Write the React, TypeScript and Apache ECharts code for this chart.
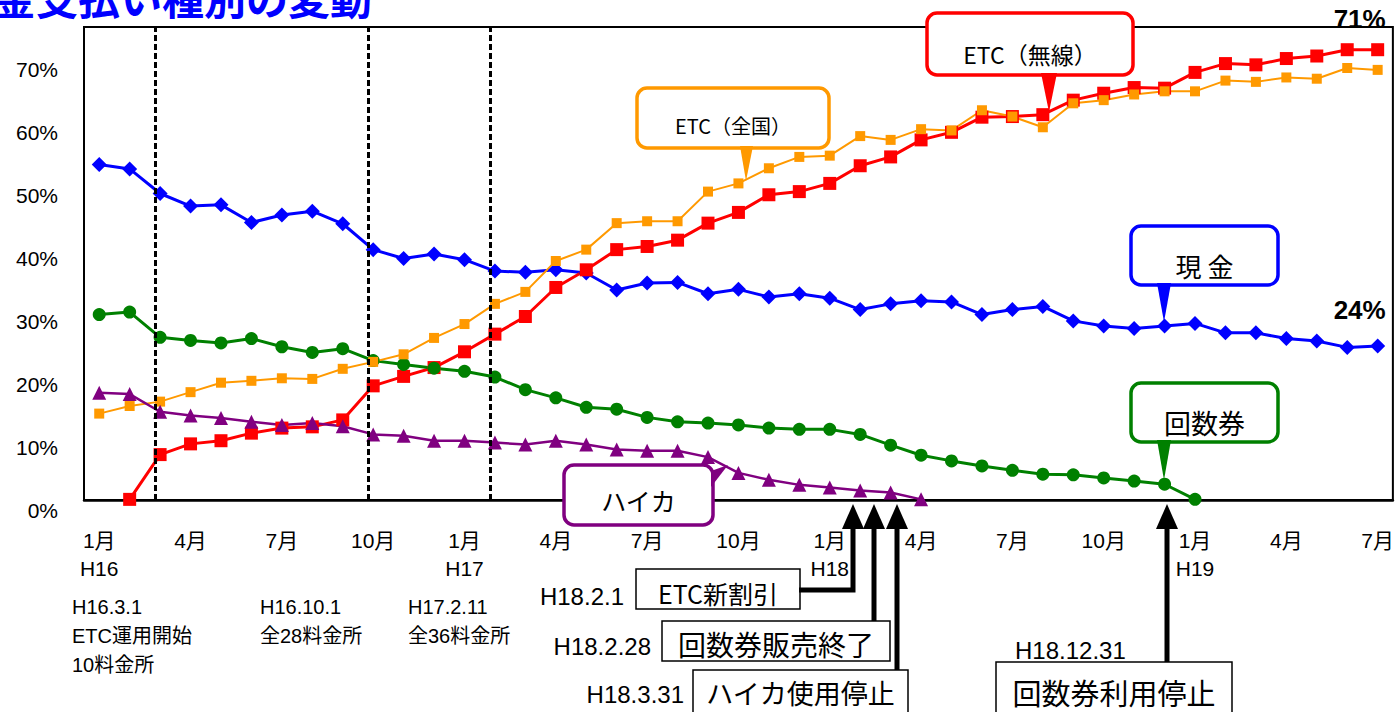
import React, { useEffect, useRef } from "react";
import * as echarts from "echarts";

// Monthly periods, H16.1 (Jan 2004) through H19.7 (Jul 2007)
const periods = [
  "H16.1", "H16.2", "H16.3", "H16.4", "H16.5", "H16.6", "H16.7", "H16.8", "H16.9", "H16.10", "H16.11", "H16.12",
  "H17.1", "H17.2", "H17.3", "H17.4", "H17.5", "H17.6", "H17.7", "H17.8", "H17.9", "H17.10", "H17.11", "H17.12",
  "H18.1", "H18.2", "H18.3", "H18.4", "H18.5", "H18.6", "H18.7", "H18.8", "H18.9", "H18.10", "H18.11", "H18.12",
  "H19.1", "H19.2", "H19.3", "H19.4", "H19.5", "H19.6", "H19.7",
];

// Share of payment types (%)
const cash = [
  53.2, 52.5, 48.6, 46.6, 46.8, 44.0, 45.2, 45.8, 43.8, 39.7, 38.3, 39.0,
  38.1, 36.3, 36.1, 36.5, 36.0, 33.3, 34.4, 34.5, 32.7, 33.4, 32.2, 32.7,
  32.0, 30.2, 31.1, 31.6, 31.4, 29.4, 30.2, 30.7, 28.4, 27.6, 27.2, 27.6,
  28.0, 26.5, 26.5, 25.6, 25.2, 24.2, 24.4,
];
const etcWireless = [
  null, 0.1, 7.2, 8.9, 9.4, 10.6, 11.4, 11.6, 12.7, 18.1, 19.6, 21.0,
  23.5, 26.3, 29.1, 33.7, 36.5, 39.7, 40.2, 41.2, 43.9, 45.6, 48.4, 48.9,
  50.2, 53.0, 54.4, 57.1, 58.3, 60.7, 60.8, 61.1, 63.4, 64.5, 65.4, 65.3,
  67.8, 69.2, 69.0, 70.0, 70.4, 71.4, 71.4,
];
const etcNational = [
  13.7, 14.9, 15.6, 17.1, 18.6, 18.9, 19.3, 19.2, 20.8, 21.9, 23.1, 25.7,
  27.9, 31.1, 33.0, 37.9, 39.7, 43.9, 44.2, 44.2, 48.9, 50.2, 52.6, 54.4,
  54.6, 57.7, 57.1, 58.8, 58.6, 61.8, 60.8, 59.1, 62.9, 63.4, 64.3, 64.8,
  64.8, 66.5, 66.3, 67.0, 66.8, 68.5, 68.2,
];
const couponTickets = [
  29.4, 29.8, 25.8, 25.3, 24.9, 25.6, 24.3, 23.4, 24.0, 22.1, 21.5, 20.9,
  20.4, 19.5, 17.5, 16.2, 14.7, 14.4, 13.1, 12.4, 12.2, 11.9, 11.4, 11.2,
  11.2, 10.4, 8.7, 7.1, 6.2, 5.4, 4.7, 4.1, 4.0, 3.5, 3.0, 2.5,
  0.1,
];
const highwayCard = [
  17.0, 16.8, 14.0, 13.4, 13.0, 12.4, 11.9, 12.2, 11.7, 10.4, 10.2, 9.4,
  9.4, 9.1, 8.8, 9.4, 8.8, 8.0, 7.8, 7.8, 6.8, 4.3, 3.2, 2.4,
  2.0, 1.5, 1.2, 0.1,
];

// ETC rollout dates as fractional month positions (0 = H16.1)
const rolloutPositions = [1.83, 8.83, 12.85];

const FONT_LATIN = "'Liberation Sans', 'Noto Sans CJK JP', sans-serif";
const FONT_CJK = "'Noto Sans CJK JP', 'Liberation Sans', sans-serif";

function monthLabel(value: string) {
  const [era, m] = value.split(".");
  return m === "1" ? `${m}月\n${era}` : `${m}月`;
}

function withEndLabel(values: (number | null)[], offset: [number, number]) {
  const last = values.length - 1;
  return values.map((v, i) =>
    i === last && v !== null
      ? {
          value: v,
          label: {
            show: true,
            position: "top",
            offset,
            formatter: `${Math.round(v)}%`,
            fontSize: 26,
            fontWeight: "bold",
            fontFamily: FONT_LATIN,
            color: "#000",
          },
        }
      : v
  );
}

function callout(
  x: number, y: number, w: number, h: number, color: string,
  text: string, fontSize: number, textY: number, pointer: number[][]
) {
  return [
    {
      type: "rect", z: 100,
      shape: { x, y, width: w, height: h, r: 10 },
      style: { fill: "#fff", stroke: color, lineWidth: 3.5 },
    },
    { type: "polygon", z: 101, shape: { points: pointer }, style: { fill: color } },
    {
      type: "text", z: 102,
      style: {
        text, x: x + w / 2, y: textY, align: "center", verticalAlign: "middle",
        fontSize, fontFamily: FONT_CJK, fill: "#000",
      },
    },
  ];
}

function noteBox(x: number, y: number, w: number, h: number, text: string, fontSize: number, textY: number) {
  return [
    {
      type: "rect", z: 100,
      shape: { x, y, width: w, height: h },
      style: { fill: "#fff", stroke: "#000", lineWidth: 1.5 },
    },
    {
      type: "text", z: 102,
      style: {
        text, x: x + w / 2, y: textY, align: "center", verticalAlign: "middle",
        fontSize, fontFamily: FONT_CJK, fill: "#000",
      },
    },
  ];
}

function plainText(text: string, x: number, y: number, fontSize: number, align = "left") {
  return {
    type: "text", z: 102,
    style: { text, x, y, align, verticalAlign: "middle", fontSize, fontFamily: FONT_LATIN, fill: "#000" },
  };
}

function arrow(points: number[][], tipX: number) {
  return [
    {
      type: "polyline", z: 103,
      shape: { points },
      style: { stroke: "#000", lineWidth: 5, fill: null },
    },
    {
      type: "polygon", z: 104,
      shape: { points: [[tipX, 504], [tipX - 11, 529], [tipX + 11, 529]] },
      style: { fill: "#000" },
    },
  ];
}

export default function App() {
  const ref = useRef<HTMLDivElement>(null);

  useEffect(() => {
    document.body.style.margin = "0";
    if (!ref.current) return;
    const chart = echarts.init(ref.current, null, { renderer: "svg" });

    const lineSeries = (name: string, data: any[], color: string, symbol: string, symbolSize: number, width: number) => ({
      name, type: "line", data, symbol, symbolSize, showAllSymbol: true,
      connectNulls: false,
      lineStyle: { color, width },
      itemStyle: { color },
      emphasis: { disabled: true },
    });

    chart.setOption({
      animation: false,
      backgroundColor: "#fff",
      grid: { left: 84, top: 27, right: 4, bottom: 212, show: true, borderColor: "#000", borderWidth: 2 },
      xAxis: [
        {
          type: "category",
          data: periods,
          boundaryGap: true,
          axisLine: { onZero: false, lineStyle: { color: "#000", width: 2.5 } },
          axisTick: { inside: true, length: 8, interval: 0, lineStyle: { color: "#000", width: 1.5 } },
          axisLabel: {
            interval: (i: number) => i % 3 === 0,
            formatter: monthLabel,
            color: "#000",
            fontSize: 21,
            fontFamily: FONT_LATIN,
            lineHeight: 28,
            margin: 26,
          },
          splitLine: { show: false },
        },
        { type: "value", min: -0.5, max: 42.5, show: false },
      ],
      yAxis: {
        type: "value",
        min: 0,
        max: 75,
        interval: 10,
        axisLine: { show: true, onZero: false, lineStyle: { color: "#000", width: 2 } },
        axisTick: { show: false },
        splitLine: { show: false },
        axisLabel: {
          formatter: (v: number) => (v % 10 === 0 ? `${v}%` : ""),
          color: "#000",
          fontSize: 21,
          fontFamily: FONT_LATIN,
          margin: 26,
          verticalAlign: "top",
        },
      },
      series: [
        {
          name: "rollout",
          type: "line",
          xAxisIndex: 1,
          data: [],
          silent: true,
          markLine: {
            silent: true,
            symbol: ["none", "none"],
            label: { show: false },
            lineStyle: { color: "#000", width: 3, type: [6, 3] },
            data: rolloutPositions.map((p) => ({ xAxis: p })),
          },
        },
        lineSeries("現金", withEndLabel(cash, [-18, -11]), "#0000FF", "diamond", 15, 3),
        lineSeries("ETC（無線）", withEndLabel(etcWireless, [-18, -6]), "#FF0000", "rect", 13, 3),
        lineSeries("回数券", couponTickets, "#008000", "circle", 13, 3),
        lineSeries("ETC（全国）", etcNational, "#FF9900", "rect", 10, 2),
        lineSeries("ハイカ", highwayCard, "#800080", "triangle", 14, 2.5),
      ],
      graphic: [
        {
          type: "text", z: 102,
          style: {
            text: "金支払い種別の変動", x: -6, y: -4, align: "left", verticalAlign: "middle",
            fontSize: 42, fontWeight: "bold", fontFamily: FONT_CJK, fill: "#0000FF",
          },
        },
        ...callout(637, 88, 192, 60, "#FF9900", "ETC（全国）", 20, 125, [[740, 146], [753, 146], [746, 181]]),
        ...callout(927, 13, 206, 62, "#FF0000", "ETC（無線）", 23, 54, [[1041, 73], [1057, 73], [1049, 112]]),
        ...callout(1131, 226, 147, 59, "#0000FF", "現 金", 26, 265, [[1157, 283], [1171, 283], [1164, 322]]),
        ...callout(1131, 383, 147, 59, "#008000", "回数券", 27, 422, [[1157, 440], [1171, 440], [1164, 480]]),
        ...callout(564, 465, 149, 60, "#800080", "ハイカ", 25, 500, [[711, 471], [711, 487], [728, 465]]),

        plainText("H16.3.1", 72, 607, 20),
        plainText("ETC運用開始", 72, 636, 20),
        plainText("10料金所", 72, 665, 20),
        plainText("H16.10.1", 260, 607, 20),
        plainText("全28料金所", 260, 636, 20),
        plainText("H17.2.11", 408, 607, 20),
        plainText("全36料金所", 408, 636, 20),

        ...noteBox(636, 569, 164, 40, "ETC新割引", 25, 593),
        ...noteBox(662, 621, 228, 40, "回数券販売終了", 28, 644),
        ...noteBox(693, 670, 215, 46, "ハイカ使用停止", 27, 692),
        ...noteBox(996, 662, 236, 54, "回数券利用停止", 29, 692),
        plainText("H18.2.1", 624, 596, 24, "right"),
        plainText("H18.2.28", 651, 646, 24, "right"),
        plainText("H18.3.31", 684, 694, 24, "right"),
        plainText("H18.12.31", 1015, 650, 24),

        ...arrow([[799, 590], [853, 590], [853, 526]], 853),
        ...arrow([[874, 621], [874, 526]], 874),
        ...arrow([[897, 670], [897, 526]], 897),
        ...arrow([[1167, 662], [1167, 526]], 1167),
      ],
    });

    return () => chart.dispose();
  }, []);

  return <div ref={ref} style={{ width: 1397, height: 712 }} />;
}
